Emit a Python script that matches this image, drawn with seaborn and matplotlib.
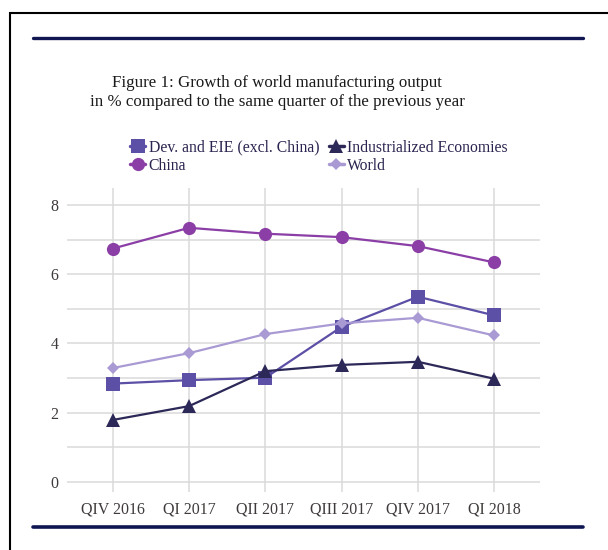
import pandas as pd
import matplotlib.pyplot as plt
from matplotlib.lines import Line2D
from matplotlib.patches import Rectangle
import seaborn as sns

sns.set_theme(style="white")
plt.rcParams['font.family'] = ['Liberation Serif', 'DejaVu Serif']

quarters = ['QIV 2016', 'QI 2017', 'QII 2017', 'QIII 2017', 'QIV 2017', 'QI 2018']
dev_eie = [2.84, 2.94, 3.01, 4.48, 5.35, 4.81]
industrialized = [1.79, 2.19, 3.20, 3.38, 3.47, 2.98]
china = [6.74, 7.34, 7.17, 7.07, 6.81, 6.34]
world = [3.29, 3.72, 4.27, 4.58, 4.74, 4.23]

series = [
    ('Dev. and EIE (excl. China)', dev_eie, '#5b4fa6', 's', 9.5),
    ('China', china, '#8b3fa6', 'o', 9.5),
    ('Industrialized Economies', industrialized, '#2c2858', '^', 10.5),
    ('World', world, '#a99ad4', 'D', 6.5),
]

fig = plt.figure(figsize=(6.08, 5.5), dpi=100)
ax = fig.add_axes([67 / 608, 0.1055, (540 - 67) / 608, 0.5527])

handles = []
for name, vals, col, mk, ms in series:
    df = pd.DataFrame({'Quarter': quarters, 'Value': vals})
    sns.lineplot(data=df, x='Quarter', y='Value', sort=False, ax=ax, color=col,
                 marker=mk, markersize=ms, markeredgewidth=0, linewidth=1.6, zorder=3)
    handles.append(Line2D([], [], color=col, marker=mk, markersize=ms,
                          markeredgewidth=0, linewidth=2.5, label=name))

ax.set_xlim(-0.6, 5.6)
ax.set_ylim(-0.29, 8.49)
ax.set_yticks(range(0, 9))
ax.set_yticklabels(['0', '', '2', '', '4', '', '6', '', '8'])
ax.grid(True, color='#dadada', linewidth=1.1, zorder=0)
ax.set_axisbelow(True)
for s in ax.spines.values():
    s.set_visible(False)
ax.tick_params(length=0, labelsize=11.5)
ax.tick_params(axis='y', pad=6)
ax.tick_params(axis='x', pad=7)
ax.set_xlabel('')
ax.set_ylabel('')
for lbl in ax.get_xticklabels() + ax.get_yticklabels():
    lbl.set_color('#3f3a3a')

fig.text(0.456, 0.849, 'Figure 1: Growth of world manufacturing output',
         ha='center', va='center', fontsize=12.2, color='#1a1a1a')
fig.text(0.456, 0.8145, 'in % compared to the same quarter of the previous year',
         ha='center', va='center', fontsize=12.2, color='#1a1a1a')

leg = fig.legend(handles=handles, ncol=2, loc='upper left', bbox_to_anchor=(0.203, 0.7575),
                 frameon=False, fontsize=11.3, handlelength=1.0, handletextpad=0.2,
                 columnspacing=0.6, labelspacing=0.12, borderaxespad=0)
for t in leg.get_texts():
    t.set_color('#2a2550')

# page decorations: navy rules and black frame
fig.add_artist(Line2D([33 / 608, 583 / 608], [1 - 38 / 550] * 2, color='#0f1652', lw=2.4))
fig.add_artist(Line2D([33 / 608, 583 / 608], [1 - 527 / 550] * 2, color='#0f1652', lw=2.6))
fig.add_artist(Rectangle((10 / 608, -0.1), 1.2, 1 - 13 / 550 + 0.1, fill=False,
                         edgecolor='black', lw=1.5, transform=fig.transFigure))

fig.savefig('out.png', dpi=100)
